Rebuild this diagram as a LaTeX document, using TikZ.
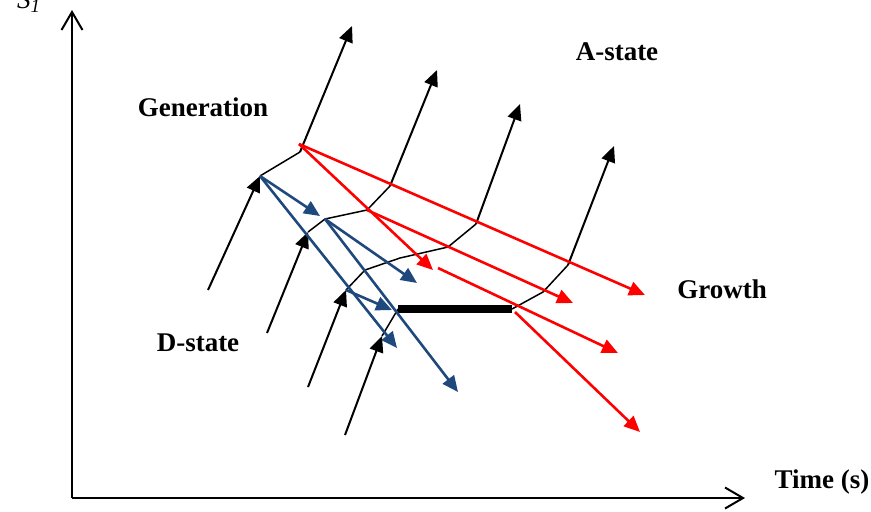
\documentclass[tikz,border=0pt]{standalone}
\usepackage{fontspec}
\setmainfont{Liberation Serif}
\usetikzlibrary{arrows.meta}
\definecolor{dstateblue}{HTML}{1F497D}
\definecolor{growthred}{HTML}{FF0000}

\begin{document}
\begin{tikzpicture}[x=0.5pt, y=-0.5pt,
  axis/.style={line width=1pt, -{Straight Barb[length=9pt,width=10.5pt]}},
  stage/.style={line width=1pt, -{Triangle[length=8pt,width=7pt]}},
  link/.style={line width=0.75pt},
  dshift/.style={dstateblue, line width=1.3pt, -{Triangle[length=8pt,width=7pt]}},
  gshift/.style={growthred, line width=1.3pt, -{Triangle[length=8pt,width=7pt]}},
  tag/.style={font=\fontsize{13.5}{16}\selectfont\bfseries}]
  \useasboundingbox (0,0) rectangle (871,511);

  % Axes
  \coordinate (origin) at (72,498);
  \coordinate (ytip) at (72,10);
  \coordinate (xtip) at (745,498);
  \draw[axis] (origin) -- (ytip);
  \draw[axis] (origin) -- (xtip);
  \node[anchor=base west, font=\fontsize{13.5}{16}\selectfont\itshape] (ylab) at (10,8) {S\textsubscript{1}};
  \node[tag] (time) at (822,482) {Time (s)};

  % Trajectory a
  \coordinate (a0) at (208,290);
  \coordinate (a1) at (260,176);
  \coordinate (a2) at (300,152);
  \coordinate (a3) at (352,26);
  \draw[stage] (a0) -- (a1);
  \draw[link] (a1) -- (a2);
  \draw[stage] (a2) -- (a3);

  % Trajectory b
  \coordinate (b0) at (267,333);
  \coordinate (b1) at (308,232);
  \coordinate (b2) at (325,219);
  \coordinate (b3) at (367,210);
  \coordinate (b4) at (390,186);
  \coordinate (b5) at (437,70);
  \draw[stage] (b0) -- (b1);
  \draw[link] (b1) -- (b2) -- (b3) -- (b4);
  \draw[stage] (b4) -- (b5);

  % Trajectory c
  \coordinate (c0) at (308,387);
  \coordinate (c1) at (346,290);
  \coordinate (c2) at (365,270);
  \coordinate (c3) at (400,258);
  \coordinate (c4) at (448,247);
  \coordinate (c5) at (476,224);
  \coordinate (c6) at (520,104);
  \draw[stage] (c0) -- (c1);
  \draw[link] (c1) -- (c2) -- (c3) -- (c4) -- (c5);
  \draw[stage] (c5) -- (c6);

  % Trajectory d, with the plateau
  \coordinate (d0) at (345,435);
  \coordinate (d1) at (382,336);
  \coordinate (d2) at (398,309);
  \coordinate (d3) at (512,309);
  \coordinate (d4) at (543,292);
  \coordinate (d5) at (568,265);
  \coordinate (d6) at (614,146);
  \draw[stage] (d0) -- (d1);
  \draw[link] (d1) -- (d2);
  \draw[line width=4pt] (d2) -- (d3);
  \draw[link] (d3) -- (d4) -- (d5);
  \draw[stage] (d5) -- (d6);

  % D-state shifts
  \coordinate (u1) at (320,216);
  \coordinate (u2) at (397,348);
  \coordinate (u3) at (417,283);
  \coordinate (u4) at (458,392);
  \coordinate (u5) at (392,310);
  \draw[dshift] (a1) -- (u1);
  \draw[dshift] (a1) -- (u2);
  \draw[dshift] (b2) -- (u3);
  \draw[dshift] (b2) -- (u4);
  \draw[dshift] (c1) -- (u5);

  % Growth shifts
  \coordinate (r0) at (299,144);
  \coordinate (r1) at (438,268);
  \coordinate (r2) at (515,312);
  \coordinate (v1) at (645,295);
  \coordinate (v2) at (433,270);
  \coordinate (v3) at (573,303);
  \coordinate (v4) at (618,353);
  \coordinate (v5) at (640,432);
  \draw[gshift] (r0) -- (v1);
  \draw[gshift] (r0) -- (v2);
  \draw[gshift] (b3) -- (v3);
  \draw[gshift] (r1) -- (v4);
  \draw[gshift] (r2) -- (v5);

  % Labels
  \node[tag] (gen) at (203,107) {Generation};
  \node[tag] (astate) at (617,52) {A-state};
  \node[tag] (growth) at (722,289) {Growth};
  \node[tag] (dstate) at (198,343) {D-state};
\end{tikzpicture}
\end{document}
